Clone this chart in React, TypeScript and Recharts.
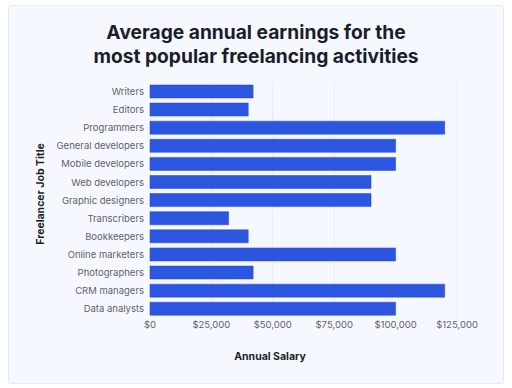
import React from "react";
import { BarChart, Bar, XAxis, YAxis, CartesianGrid } from "recharts";

const jobTitles = [
  "Writers",
  "Editors",
  "Programmers",
  "General developers",
  "Mobile developers",
  "Web developers",
  "Graphic designers",
  "Transcribers",
  "Bookkeepers",
  "Online marketers",
  "Photographers",
  "CRM managers",
  "Data analysts",
];
const salaries = [42000, 40000, 120000, 100000, 100000, 90000, 90000, 32000, 40000, 100000, 42000, 120000, 100000];
const xTicks = [0, 25000, 50000, 75000, 100000, 125000];

const data = jobTitles.map((t, i) => ({ title: t, salary: salaries[i] }));

const fmt = (v: number) => "$" + v.toLocaleString("en-US");

const FONT = "Inter, 'Noto Sans', sans-serif";

export default function App() {
  return (
    <div style={{ position: "absolute", left: 0, top: 0, width: 512, height: 388, background: "#ffffff", fontFamily: FONT }}>
      <div
        style={{
          position: "absolute",
          left: 8,
          top: 5,
          width: 494,
          height: 377,
          background: "#f5f9ff",
          border: "1px solid #e6ebf2",
          borderRadius: 3,
        }}
      />
      <div
        style={{
          position: "absolute",
          left: 0,
          top: 20,
          width: 512,
          textAlign: "center",
          fontSize: 19.2,
          fontWeight: 700,
          lineHeight: "24px",
          color: "#1b1e2a",
        }}
      >
        Average annual earnings for the
        <br />
        most popular freelancing activities
      </div>
      <div style={{ position: "absolute", left: 0, top: 0 }}>
        <BarChart
          width={512}
          height={388}
          data={data}
          layout="vertical"
          margin={{ top: 82.6, right: 55, bottom: 40, left: 0 }}
          barCategoryGap="13%"
        >
          <CartesianGrid horizontal={false} stroke="#e6ebf2" />
          <XAxis
            type="number"
            domain={[0, 125000]}
            ticks={xTicks}
            tickFormatter={fmt}
            axisLine={false}
            tickLine={false}
            tickSize={0}
            tickMargin={3}
            height={30}
            tick={{ fontSize: 9.5, fill: "#5c616d", fontFamily: FONT }}
            label={{
              content: () => (
                <text x={270} y={359.5} textAnchor="middle" fontSize={10.5} fontWeight={700} fill="#1b1e2a" fontFamily={FONT}>
                  Annual Salary
                </text>
              ),
            }}
          />
          <YAxis
            type="category"
            dataKey="title"
            width={150}
            axisLine={false}
            tickLine={false}
            tickSize={0}
            tickMargin={6}
            interval={0}
            tick={{ fontSize: 9.5, fill: "#5c616d", fontFamily: FONT }}
            label={{
              content: () => (
                <text
                  x={44}
                  y={194}
                  transform="rotate(-90 44 194)"
                  textAnchor="middle"
                  fontSize={10.5}
                  fontWeight={700}
                  fill="#1b1e2a"
                  fontFamily={FONT}
                >
                  Freelancer Job Title
                </text>
              ),
            }}
          />
          <Bar dataKey="salary" fill="#2c55e0" stroke="#2448c8" strokeWidth={0.5} isAnimationActive={false} />
        </BarChart>
      </div>
    </div>
  );
}
